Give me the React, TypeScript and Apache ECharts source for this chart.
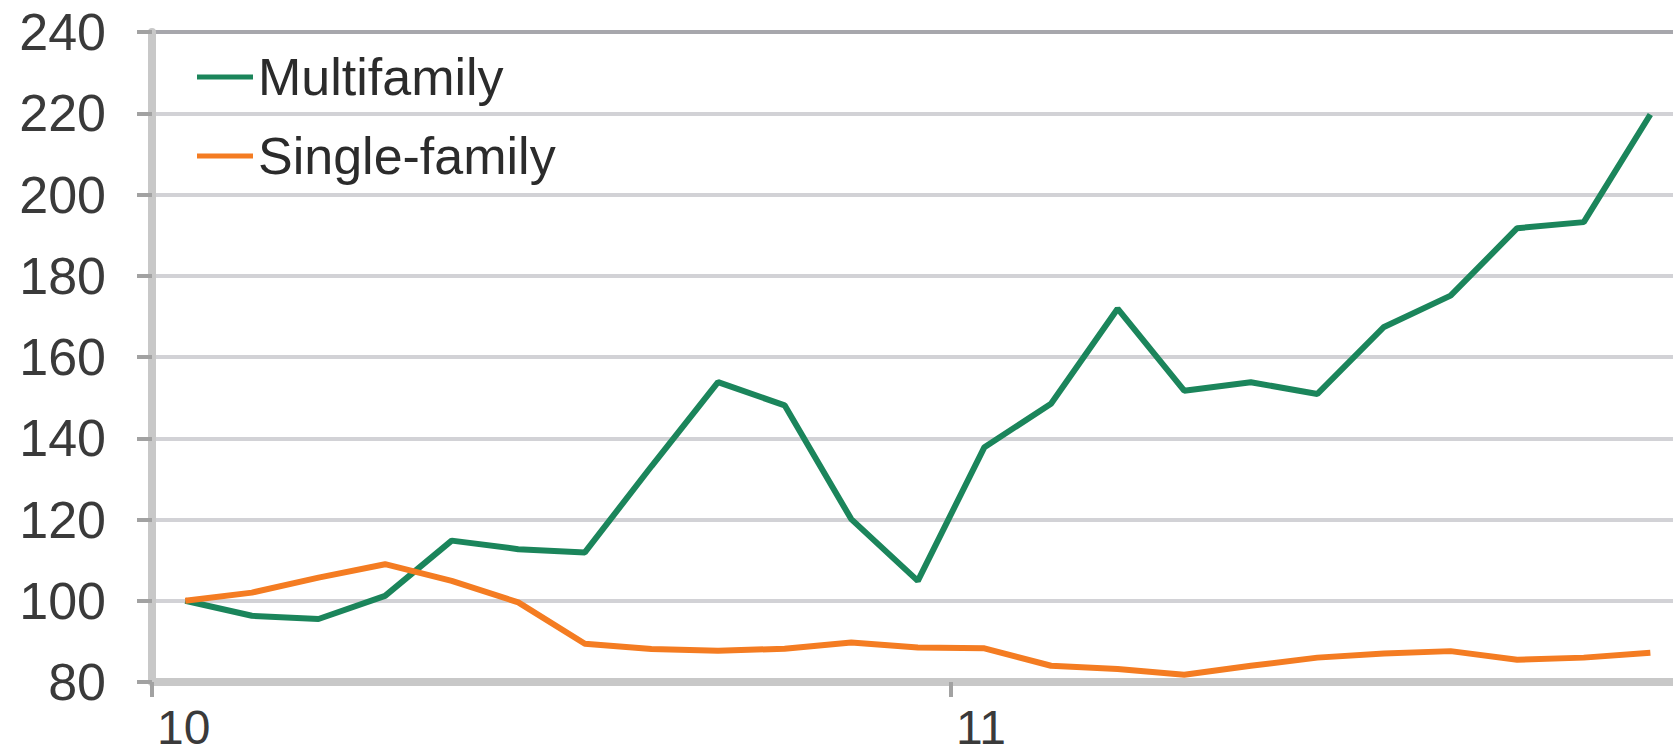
import React, { useEffect, useRef } from 'react';
import * as echarts from 'echarts';

// Year tick labels and the month index where each year starts
const yearLabels = ['10', '11'];
const yearStartMonth = [0, 12];

const seriesNames = ['Multifamily', 'Single-family'];

// Monthly index values, Jan 2010 = 100 (Jan 2010 .. Nov 2011)
const multifamily = [
  100, 96.3, 95.5, 101.2, 114.8, 112.7, 111.9, 133.1, 153.8, 148.1, 120.1, 104.9,
  137.8, 148.5, 171.9, 151.7, 153.8, 150.9, 167.4, 175.1, 191.7, 193.2, 219.7,
];
const singleFamily = [
  100, 102, 105.7, 109, 104.9, 99.6, 89.4, 88.1, 87.7, 88.2, 89.7, 88.5,
  88.3, 84, 83.2, 81.8, 84, 86, 87, 87.6, 85.5, 86, 87.2,
];

const yMin = 80;
const yMax = 240;
const yStep = 20;

const FONT = '"Liberation Sans", Arial, Helvetica, sans-serif';

export default function App() {
  const ref = useRef<HTMLDivElement>(null);

  useEffect(() => {
    if (!ref.current) return;
    const chart = echarts.init(ref.current, null, { renderer: 'svg' });
    const monthPos = (i: number) => i + 0.5;
    const toPairs = (arr: number[]) => arr.map((v, i) => [monthPos(i), v]);
    const nLines = (yMax - yMin) / yStep + 1;
    const gridColors = Array.from({ length: nLines }, (_, i) =>
      i === nLines - 1 ? '#a7a7ac' : '#d2d2d6'
    );

    chart.setOption({
      animation: false,
      backgroundColor: '#ffffff',
      grid: { left: 152, right: 0, top: 32, bottom: 72, containLabel: false },
      legend: {
        orient: 'vertical',
        left: 192,
        top: 46,
        itemWidth: 56,
        itemHeight: 5,
        itemGap: 27,
        icon: 'rect',
        data: seriesNames,
        textStyle: {
          fontFamily: FONT,
          fontSize: 52,
          lineHeight: 50,
          color: '#2b2b2b',
        },
      },
      xAxis: {
        type: 'value',
        min: 0,
        max: 22.84,
        interval: 12,
        splitLine: { show: false },
        axisLine: { show: true, lineStyle: { color: '#c8c8c8', width: 8 } },
        axisTick: { show: true, length: 15, lineStyle: { color: '#a2a2a2', width: 4 } },
        axisLabel: {
          show: true,
          fontFamily: FONT,
          fontSize: 48,
          lineHeight: 36,
          color: '#3a3a3a',
          align: 'left',
          margin: 27,
          padding: [0, 0, 0, 5],
          showMaxLabel: false,
          formatter: (v: number) => {
            const k = yearStartMonth.indexOf(v);
            return k >= 0 ? yearLabels[k] : '';
          },
        },
      },
      yAxis: {
        type: 'value',
        min: yMin,
        max: yMax,
        interval: yStep,
        axisLine: { show: true, lineStyle: { color: '#c8c8c8', width: 8 } },
        axisTick: { show: true, length: 15, lineStyle: { color: '#a2a2a2', width: 4 } },
        axisLabel: {
          fontFamily: FONT,
          fontSize: 52,
          color: '#3a3a3a',
          margin: 46,
        },
        splitLine: { show: true, lineStyle: { color: gridColors, width: 4 } },
      },
      series: [
        {
          name: seriesNames[0],
          type: 'line',
          data: toPairs(multifamily),
          showSymbol: false,
          symbol: 'none',
          lineStyle: { color: '#1b855b', width: 6 },
          itemStyle: { color: '#1b855b' },
          z: 3,
        },
        {
          name: seriesNames[1],
          type: 'line',
          data: toPairs(singleFamily),
          showSymbol: false,
          symbol: 'none',
          lineStyle: { color: '#f47c22', width: 6 },
          itemStyle: { color: '#f47c22' },
          z: 4,
        },
      ],
    });
    return () => chart.dispose();
  }, []);

  return (
    <div
      ref={ref}
      style={{ position: 'fixed', left: 0, top: 0, width: 1673, height: 754, background: '#fff' }}
    />
  );
}
